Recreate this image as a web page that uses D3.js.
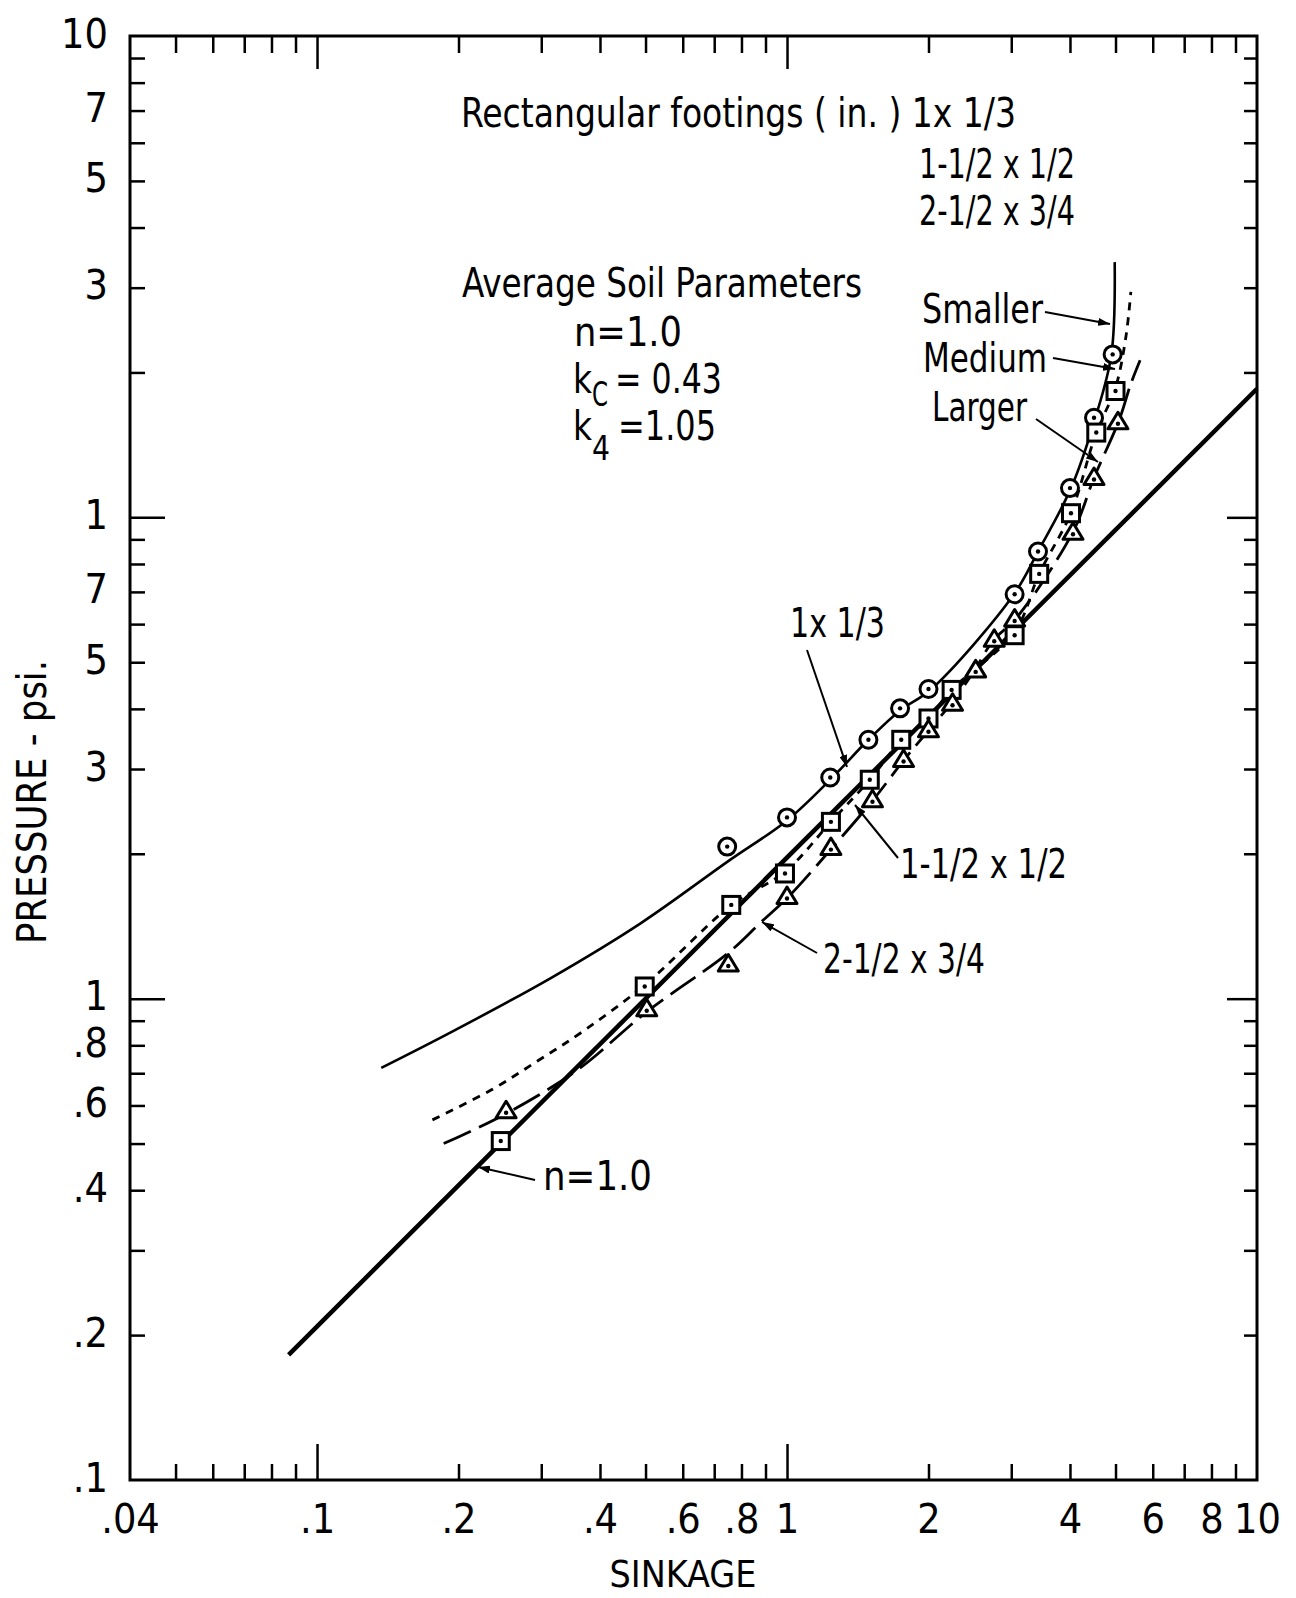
<!DOCTYPE html>
<html><head><meta charset="utf-8">
<script src="https://cdn.jsdelivr.net/npm/d3@7"></script>
<style>
html,body{margin:0;padding:0;background:#fff;}
svg{display:block;background:#fff;}
text{font-family:"Liberation Sans Narrow","DejaVu Sans Condensed","Liberation Sans",sans-serif;fill:#000;}
</style></head><body>
<svg id="chart" width="1296" height="1598"></svg>
<script>
// ---------------- DATA ----------------
const xTickLabelValues = [0.04, 0.1, 0.2, 0.4, 0.6, 0.8, 1, 2, 4, 6, 8, 10];
const xTickLabels      = [".04", ".1", ".2", ".4", ".6", ".8", "1", "2", "4", "6", "8", "10"];
const xMinorTicks = [0.05, 0.06, 0.07, 0.08, 0.09, 0.2, 0.3, 0.4, 0.5, 0.6, 0.7, 0.8, 0.9, 2, 3, 4, 5, 6, 7, 8, 9];
const xMajorTicks = [0.1, 1];

const yTickLabelValues = [0.1, 0.2, 0.4, 0.6, 0.8, 1, 3, 5, 7, 10, 30, 50, 70, 100];
const yTickLabels      = [".1", ".2", ".4", ".6", ".8", "1", "3", "5", "7", "1", "3", "5", "7", "10"];
const yMinorTicks = [0.2, 0.3, 0.4, 0.5, 0.6, 0.7, 0.8, 0.9, 2, 3, 4, 5, 6, 7, 8, 9, 20, 30, 40, 50, 60, 70, 80, 90];
const yMajorTicks = [1, 10];

// sinkage, pressure
const smallerCurve = [[0.137,0.718],[0.193,0.852],[0.315,1.105],[0.488,1.434],[0.75,1.931],[1.0,2.346],[1.24,2.86],[1.49,3.45],[1.74,3.97],[2.03,4.40],[3.04,6.92],[3.42,8.49],[4.02,11.5],[4.53,16.1],[4.90,21.8],[4.98,33.9]];
const smallerPoints = [[0.746,2.07],[1.0,2.38],[1.236,2.88],[1.49,3.45],[1.74,4.01],[2.0,4.40],[3.05,6.92],[3.42,8.49],[4.0,11.5],[4.5,16.1],[4.93,21.8]];

const mediumCurve = [[0.176,0.560],[0.234,0.645],[0.295,0.743],[0.371,0.860],[0.50,1.071],[0.762,1.565],[0.992,1.838],[1.242,2.334],[1.50,2.85],[1.753,3.447],[1.995,3.82],[2.238,4.377],[3.05,5.78],[3.44,7.63],[4.02,10.22],[4.55,15.0],[5.0,18.6],[5.26,23.7],[5.39,29.4]];
const mediumPoints = [[0.246,0.506],[0.498,1.06],[0.761,1.566],[0.99,1.82],[1.24,2.33],[1.50,2.85],[1.75,3.45],[2.0,3.82],[2.24,4.38],[3.05,5.69],[3.44,7.63],[4.02,10.2],[4.55,15.0],[5.0,18.3]];

const largerCurve = [[0.186,0.50],[0.250,0.574],[0.358,0.711],[0.503,0.939],[0.75,1.245],[0.88,1.441],[1.007,1.628],[1.242,2.047],[1.524,2.586],[1.771,3.127],[2.006,3.62],[2.238,4.109],[2.511,4.826],[2.748,5.557],[3.067,6.157],[4.057,9.314],[4.505,12.12],[5.079,15.84],[5.393,18.97],[5.64,21.2]];
const largerPoints = [[0.2525,0.585],[0.503,0.953],[0.75,1.18],[1.0,1.63],[1.24,2.06],[1.52,2.59],[1.77,3.14],[2.0,3.62],[2.25,4.11],[2.52,4.82],[2.76,5.58],[3.05,6.15],[4.06,9.31],[4.5,12.1],[5.06,15.8]];

const nLine = [[0.087,0.182],[10,18.5]];

// ---------------- LAYOUT ----------------
const svg = d3.select("#chart");
const L = 130, R = 1257, T = 36, B = 1480;
const x = d3.scaleLog().domain([0.04, 10]).range([L, R]);
const y = d3.scaleLog().domain([0.1, 100]).range([B, T]);

const defs = svg.append("defs");
defs.append("marker").attr("id","arrow").attr("viewBox","0 0 12 8")
  .attr("refX",12).attr("refY",4).attr("markerWidth",12).attr("markerHeight",8)
  .attr("markerUnits","userSpaceOnUse").attr("orient","auto")
  .append("path").attr("d","M0,0 L12,4 L0,8 Z").attr("fill","#000");

// ticks
function tickAxis(axisFn, scale, vals, size, transform) {
  const g = svg.append("g").attr("transform", transform)
    .call(axisFn(scale).tickValues(vals).tickSize(size).tickFormat(""));
  g.select(".domain").remove();
  g.selectAll(".tick line").attr("stroke","#000").attr("stroke-width",2.5);
  return g;
}
tickAxis(d3.axisBottom, x, xMinorTicks, -16, `translate(0,${B})`);
tickAxis(d3.axisBottom, x, xMajorTicks, -36, `translate(0,${B})`);
tickAxis(d3.axisTop, x, xMinorTicks, -17, `translate(0,${T})`);
tickAxis(d3.axisTop, x, xMajorTicks, -33, `translate(0,${T})`);
tickAxis(d3.axisLeft, y, yMinorTicks, -15, `translate(${L},0)`);
tickAxis(d3.axisLeft, y, yMajorTicks, -35, `translate(${L},0)`);
tickAxis(d3.axisRight, y, yMinorTicks, -13, `translate(${R},0)`);
tickAxis(d3.axisRight, y, yMajorTicks, -30, `translate(${R},0)`);

// labels
const xl = svg.append("g").attr("transform",`translate(0,${B})`)
  .call(d3.axisBottom(x).tickValues(xTickLabelValues).tickSize(0).tickPadding(0)
    .tickFormat((d,i)=>xTickLabels[i]));
xl.select(".domain").remove();
xl.selectAll(".tick text").attr("y",53).attr("dy",null)
  .style("font-size","41px").style("font-family",'"Liberation Sans Narrow","DejaVu Sans Condensed",sans-serif');

const yl = svg.append("g").attr("transform",`translate(${L},0)`)
  .call(d3.axisLeft(y).tickValues(yTickLabelValues).tickSize(0).tickPadding(0)
    .tickFormat((d,i)=>yTickLabels[i]));
yl.select(".domain").remove();
yl.selectAll(".tick text").attr("x",-22).attr("dy",11).attr("text-anchor","end")
  .style("font-size","41px").style("font-family",'"Liberation Sans Narrow","DejaVu Sans Condensed",sans-serif');

// frame
svg.append("rect").attr("x",L).attr("y",T).attr("width",R-L).attr("height",B-T)
  .attr("fill","none").attr("stroke","#000").attr("stroke-width",3);

// lines
const line = d3.line().x(d=>x(d[0])).y(d=>y(d[1]));
const curve = d3.line().x(d=>x(d[0])).y(d=>y(d[1])).curve(d3.curveCatmullRom.alpha(0.5));

svg.append("path").datum(nLine).attr("d",line).attr("fill","none")
  .attr("stroke","#000").attr("stroke-width",4.5);
svg.append("path").datum(smallerCurve).attr("d",curve).attr("fill","none")
  .attr("stroke","#000").attr("stroke-width",2.6);
svg.append("path").datum(mediumCurve).attr("d",curve).attr("fill","none")
  .attr("stroke","#000").attr("stroke-width",2.8).attr("stroke-dasharray","8,7");
svg.append("path").datum(largerCurve).attr("d",curve).attr("fill","none")
  .attr("stroke","#000").attr("stroke-width",2.8).attr("stroke-dasharray","30,9");

// markers
const mk = svg.append("g");
mk.selectAll(".c").data(smallerPoints).join("circle")
  .attr("cx",d=>x(d[0])).attr("cy",d=>y(d[1])).attr("r",8.5)
  .attr("fill","#fff").attr("stroke","#000").attr("stroke-width",3);
mk.selectAll(".s").data(mediumPoints).join("rect")
  .attr("x",d=>x(d[0])-8.5).attr("y",d=>y(d[1])-8.5).attr("width",17).attr("height",17)
  .attr("fill","#fff").attr("stroke","#000").attr("stroke-width",3);
mk.selectAll(".t").data(largerPoints).join("path")
  .attr("d",d=>{const cx=x(d[0]), cy=y(d[1]); return `M${cx},${cy-9.5}L${cx+10},${cy+7}L${cx-10},${cy+7}Z`;})
  .attr("fill","#fff").attr("stroke","#000").attr("stroke-width",3).attr("stroke-linejoin","round");
const dots = smallerPoints.map(d=>[d[0],d[1],0]).concat(mediumPoints.map(d=>[d[0],d[1],0]), largerPoints.map(d=>[d[0],d[1],2]));
mk.selectAll(".d").data(dots).join("circle")
  .attr("cx",d=>x(d[0])).attr("cy",d=>y(d[1])+d[2]).attr("r",2.2).attr("fill","#000");

// annotation texts
const FS = 40;
function label(str, px, py, w, size) {
  const t = svg.append("text").attr("x",px).attr("y",py).style("font-size",(size||FS)+"px").text(str);
  if (w) t.attr("textLength",w).attr("lengthAdjust","spacingAndGlyphs");
  return t;
}
label("Rectangular footings ( in. ) 1x 1/3", 461, 127, 555);
label("1-1/2 x 1/2", 919, 178, 156);
label("2-1/2 x 3/4", 919, 225, 156);
label("Average Soil Parameters", 462, 297, 400);
label("n=1.0", 574, 346, 108);
label("k", 573, 393, 19);
label("C", 592, 406, 16, 34);
label("= 0.43", 615, 393, 107);
label("k", 573, 440, 19);
label("4", 592, 460, 18, 34);
label("=1.05", 618, 440, 98);
label("Smaller", 922, 323, 121);
label("Medium", 923, 372, 124);
label("Larger", 932, 421, 95);
label("1x 1/3", 790, 637, 95);
label("1-1/2 x 1/2", 900, 878, 167);
label("2-1/2 x 3/4", 823, 973, 162);
label("n=1.0", 543, 1190, 109);

// axis titles
svg.append("text").attr("x",683).attr("y",1587).attr("text-anchor","middle")
  .style("font-size","38px").attr("textLength",147).attr("lengthAdjust","spacingAndGlyphs").text("SINKAGE");
svg.append("text").attr("transform","translate(46,802) rotate(-90)").attr("text-anchor","middle")
  .style("font-size","40px").attr("textLength",284).attr("lengthAdjust","spacingAndGlyphs").text("PRESSURE - psi.");

// arrows
const arrows = [[1045,312,1110,324],[1053,358,1115,369],[1036,419,1098,462],[807,650,847,767],[898,858,855,805],[817,953,762,922],[535,1180,478,1167]];
svg.append("g").selectAll("line").data(arrows).join("line")
  .attr("x1",d=>d[0]).attr("y1",d=>d[1]).attr("x2",d=>d[2]).attr("y2",d=>d[3])
  .attr("stroke","#000").attr("stroke-width",2).attr("marker-end","url(#arrow)");
</script>
</body></html>
